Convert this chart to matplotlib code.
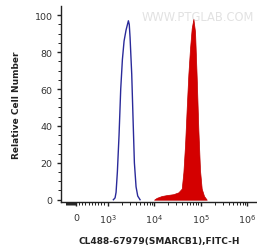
import matplotlib
matplotlib.use("Agg")
import matplotlib.pyplot as plt
import numpy as np

# Control (blue outline) histogram: FITC-H value, relative count
blue_x = [1334, 1450, 1524, 1625, 1766, 1919, 2085, 2265, 2500, 2806, 2930, 3048, 3311, 3533, 3776, 4102, 4457, 5000]
blue_y = [0, 1, 4, 15, 35, 60, 76, 86, 92, 97, 95, 88, 68, 44, 20, 7, 2, 0]

# Stained sample (red filled) histogram
red_x = [10000, 11400, 14600, 18700, 26000, 33400, 39400, 42800, 46500, 50500, 54700, 59400,
         64600, 70200, 76200, 82800, 89800, 97500, 106000, 119000, 136000]
red_y = [0, 1, 2, 2.5, 3, 4, 6, 15, 30, 50, 68, 82, 93, 98, 91, 66, 38, 16, 6, 2, 0]

x_ticks = [0, 1e3, 1e4, 1e5, 1e6]
x_ticklabels = ["0", "$10^3$", "$10^4$", "$10^5$", "$10^6$"]
y_ticks = [0, 20, 40, 60, 80, 100]

fig = plt.figure(figsize=(2.57, 2.51), dpi=100)
ax = fig.add_axes([0.237, 0.193, 0.763, 0.779])

ax.set_xscale("symlog", linthresh=1000, linscale=0.612)
ax.fill_between(red_x, red_y, 0, color="#d40000", linewidth=0.5, edgecolor="#c00000")
ax.plot(blue_x, blue_y, color="#2a2a9a", linewidth=1.0)

ax.set_xlim(-476, 1.64e6)
ax.set_ylim(-1, 105)

ax.set_xticks(x_ticks)
ax.set_xticklabels(x_ticklabels)
minor = list(np.arange(-300, 1, 30)) + [100 * k for k in range(1, 10)]
for d in [1e3, 1e4, 1e5]:
    minor += [d * k for k in range(2, 10)]
ax.set_xticks(minor, minor=True)

ax.set_yticks(y_ticks)
ax.set_yticks(np.arange(0, 101, 5), minor=True)

for s in ["top", "right"]:
    ax.spines[s].set_visible(False)
for s in ["left", "bottom"]:
    ax.spines[s].set_linewidth(1.0)
    ax.spines[s].set_color("#222222")

ax.tick_params(axis="both", which="major", direction="out", length=3, width=1,
               labelsize=6.8, labelcolor="#333333", color="#222222", pad=3)
ax.tick_params(axis="both", which="minor", direction="out", length=2, width=0.7, color="#222222")
ax.tick_params(axis="x", which="major", pad=5)

ax.set_ylabel("Relative Cell Number", fontsize=6.5, fontweight="bold", color="#222222", labelpad=10)
ax.set_xlabel("CL488-67979(SMARCB1),FITC-H", fontsize=6.5, fontweight="bold", color="#222222", labelpad=8)

ax.text(0.985, 0.945, "WWW.PTGLAB.COM", transform=ax.transAxes, ha="right", va="center",
        fontsize=8.3, color="#e2e2e2", zorder=0)

fig.savefig("out.png", dpi=100)
